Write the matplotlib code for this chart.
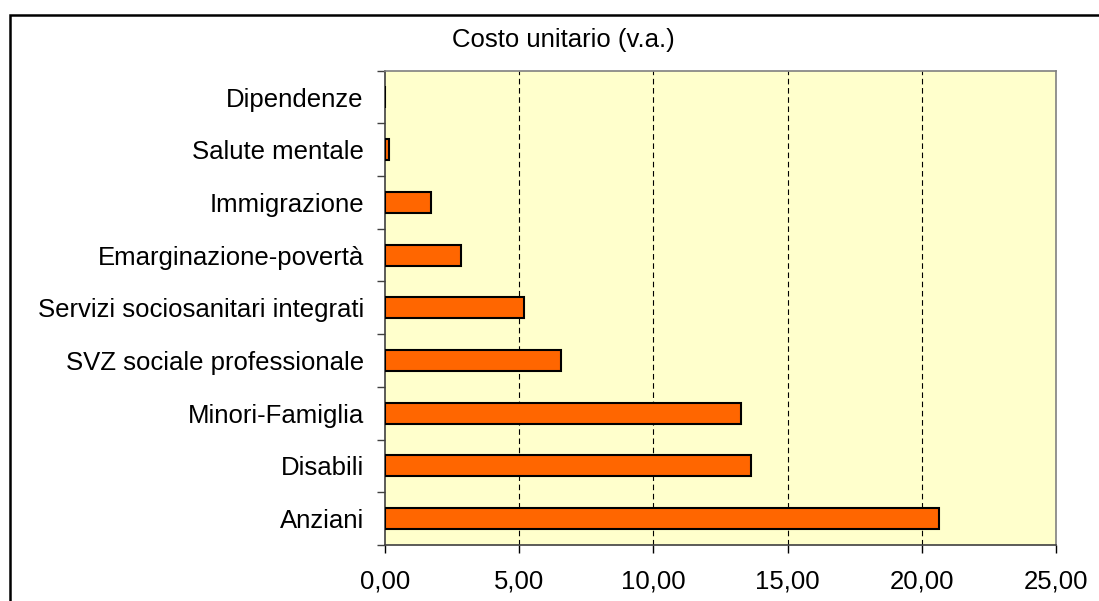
import matplotlib.pyplot as plt
from matplotlib.patches import Rectangle
from matplotlib.ticker import FixedLocator, FuncFormatter

# categories from bottom to top
categories = ["Anziani", "Disabili", "Minori-Famiglia", "SVZ sociale professionale",
              "Servizi sociosanitari integrati", "Emarginazione-povertà",
              "Immigrazione", "Salute mentale", "Dipendenze"]
costo_unitario = [20.63, 13.63, 13.26, 6.55, 5.20, 2.83, 1.71, 0.16, 0.0]
x_ticks = [0, 5, 10, 15, 20, 25]

plt.rcParams['font.family'] = ['Liberation Sans', 'DejaVu Sans']
fs = 18.5

fig = plt.figure(figsize=(10.99, 6.01), dpi=100)
ax = fig.add_axes([0.350, 0.0932, 0.611, 0.7892])

# outer chart frame (runs off the right and bottom edges)
fig.patches.append(Rectangle((10 / 1099, -0.05), 1.2, 1 - 15 / 601 + 0.05,
                             transform=fig.transFigure, fill=False,
                             edgecolor='black', linewidth=1.8))

ax.set_facecolor('#FFFFCC')
ypos = list(range(len(categories)))
ax.barh(ypos, costo_unitario, height=0.4, color='#FF6600',
        edgecolor='black', linewidth=1.5, zorder=3)

ax.set_xlim(0, 25)
ax.set_ylim(-0.5, len(categories) - 0.5)

ax.xaxis.set_major_locator(FixedLocator(x_ticks))
ax.xaxis.set_major_formatter(FuncFormatter(lambda v, p: f"{v:.2f}".replace('.', ',')))
for v in x_ticks[1:-1]:
    ax.axvline(v, color='black', linewidth=0.8, linestyle=(0, (5, 3.3)), zorder=2)

ax.set_yticks(ypos)
ax.set_yticklabels(categories)
ax.set_yticks([i + 0.5 for i in range(-1, len(categories))], minor=True)
ax.tick_params(axis='y', which='major', length=0, pad=15, labelsize=fs)
ax.tick_params(axis='y', which='minor', length=6, width=1, color='#404040', direction='out')
ax.tick_params(axis='x', which='major', length=6, width=1, color='black', direction='out',
               pad=12, labelsize=fs)

for side in ['top', 'right']:
    ax.spines[side].set_color('#808080')
    ax.spines[side].set_linewidth(1.2)
ax.spines['left'].set_color('#404040')
ax.spines['left'].set_linewidth(1.2)
ax.spines['bottom'].set_color('#404040')
ax.spines['bottom'].set_linewidth(1.2)

fig.text(563 / 1099, 1 - 40 / 601, "Costo unitario (v.a.)", ha='center', va='center', fontsize=fs)

fig.savefig("out.png", dpi=100)
